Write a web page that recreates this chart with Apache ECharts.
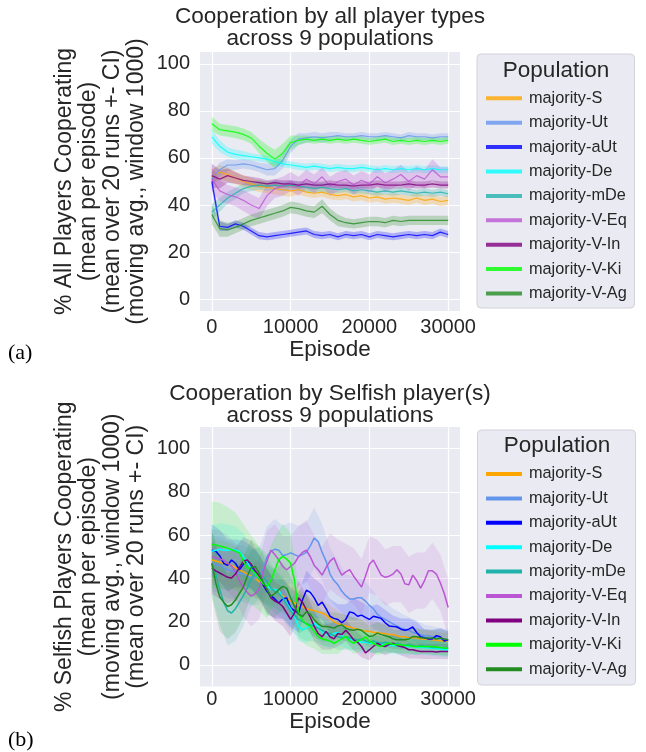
<!DOCTYPE html>
<html><head><meta charset="utf-8">
<script src="https://cdn.jsdelivr.net/npm/echarts@6/dist/echarts.min.js"></script>
<style>html,body{margin:0;padding:0;background:#fff;}#c{width:646px;height:752px;}</style>
</head><body><div id="c"></div>
<script>
// ---------- categories ----------
const populations = ['majority-S','majority-Ut','majority-aUt','majority-De','majority-mDe','majority-V-Eq','majority-V-In','majority-V-Ki','majority-V-Ag'];
const seriesColors = ['#FFA500','#6495ED','#0000FF','#00FFFF','#20B2AA','#BA55D3','#800080','#00FF00','#228B22'];
const xTicks = [0,10000,20000,30000];
const yTicks = [0,20,40,60,80,100];

// ---------- panel (a): all players, every 1000 episodes ----------
const epTop = [0,1000,2000,3000,4000,5000,6000,7000,8000,9000,10000,11000,12000,13000,14000,15000,16000,17000,18000,19000,20000,21000,22000,23000,24000,25000,26000,27000,28000,29000,30000];
const topS   = [52,54,53,51.5,50,49,48,47.5,47,46.5,46,46.5,45.5,45,45.5,44.5,44,44.5,43.5,44,43,43.5,42.5,43,42.5,42,43,42,42.5,41.5,42];
const topUt  = [51,55,57,57,57.5,57,56,55,55.5,59,65,68,68.5,69,68.5,69,69.5,69,69,69.5,69,69,69.5,69,68.5,69.5,69,69,68.5,69,69];
const topAUt = [50,31,30.5,32,31,29,27,26.5,27,27.5,28,28.5,29,27.5,27,27.5,26.5,27.5,27,27.5,26.5,27.5,27,26.5,27,27.5,27,27.5,27,28.5,27.5];
const topDe  = [69,65,62.5,61.5,61,60.5,60,59.5,58.5,57.5,57,56.5,56,56.5,56,55.5,56,55.5,55.5,56,55.5,55,55.5,55,55.5,55,55.5,55,55.5,55,55];
const topMDe = [37,40,43,45,47,48,48.5,48,48.5,48,48.5,48,47.5,47,47.5,47,46.5,47,46,46.5,46,45.5,46,45.5,46,45.5,45,45.5,45,45.5,44.8];
const topVEq = [51,46,44.5,43.5,42,40,38.5,44,47,48,50,48,51,49,52,48,50,51,48.5,50.5,49,52,49.5,51,53,50,52.5,51,55,52,52];
const topVIn = [52.5,51,52.5,51.5,50.5,50,49.5,49,49.5,49,49,48.5,49,48.5,48.5,49,48.5,48.5,48,48.5,48.5,49,48.5,48.5,48.5,49,48.5,48.5,49,48.5,48.5];
const topVKi = [74.5,72,71.5,71,70,68.5,65,62,59.5,62,66.5,67.5,68,67.5,68,67.5,68,67.5,68,67.5,67,67.5,68,67,67.5,67,67.5,67,67.5,67,67.5];
const topVAg = [36,30,29.5,30.5,32,33.5,34.5,35.5,36.5,37.5,39,38.5,37.5,37,39.5,36,33.5,32.5,32,32.5,33,33,32.5,33.5,33,33.5,33.5,33.5,33.5,33.5,33.5];
// CI half-widths, panel (a)
const ciTopS   = [3,3,3,2.5,2.5,2.5,2.5,2.5,2.5,2.5,2.5,2,2,2,2,2,2,2,2,2,2,2,2,2,2,2,2,2,2,2,2];
const ciTopUt  = [3,3,2.5,2,2,2,2,2.5,3,3.5,3,2.5,2,2,2,2,1.5,1.5,1.5,1.5,1.5,1.5,1.5,1.5,1.5,1.5,1.5,1.5,1.5,1.5,1.5];
const ciTopAUt = [3,2,1.5,1.5,1.5,1.5,1.5,1.5,1.5,1.5,1.5,1.5,1.5,1.5,1.5,1.5,1.5,1.5,1.5,1.5,1.5,1.5,1.5,1.5,1.5,1.5,1.5,1.5,1.5,1.5,1.5];
const ciTopDe  = [3,2.5,2,2,2,1.5,1.5,1.5,1.5,1.5,1.5,1.5,1.5,1.5,1.5,1.5,1.5,1.5,1.5,1.5,1.5,1.5,1.5,1.5,1.5,1.5,1.5,1.5,1.5,1.5,1.5];
const ciTopMDe = [3.5,3,2.5,2.5,2,2,2,2,2,2,2,2,2,2,2,2,1.5,1.5,1.5,1.5,1.5,1.5,1.5,1.5,1.5,1.5,1.5,1.5,1.5,1.5,1.5];
const ciTopVEq = [5,4.5,4,4,4.5,4.5,4.5,4.5,4,4,4,4,4,4,4,4,4,4,4,4,4,4,4,4,4,4,4,4,4.5,4,4];
const ciTopVIn = [5,4,3,2.5,2,2,2,1.5,1.5,1.5,1.5,1.5,1.5,1.5,1.5,1.5,1.5,1.5,1.5,1.5,1.5,1.5,1.5,1.5,1.5,1.5,1.5,1.5,1.5,1.5,1.5];
const ciTopVKi = [3,2.5,2.5,2.5,2.5,2.5,3,3.5,4,4,3,2,1.5,1.5,1.5,1.5,1.5,1.5,1.5,1.5,1.5,1.5,1.5,1.5,1.5,1.5,1.5,1.5,1.5,1.5,1.5];
const ciTopVAg = [4,3.5,3,2.5,2.5,2.5,2.5,2.5,2.5,2.5,2.5,2.5,2.5,2.5,3,2.5,2.5,2,2,2,2,2,2,2,2,2,2,2,2,2,2];

// ---------- panel (b): selfish players, every 500 episodes ----------
const epBot = [0,500,1000,1500,2000,2500,3000,3500,4000,4500,5000,5500,6000,6500,7000,7500,8000,8500,9000,9500,10000,10500,11000,11500,12000,12500,13000,13500,14000,14500,15000,15500,16000,16500,17000,17500,18000,18500,19000,19500,20000,20500,21000,21500,22000,22500,23000,23500,24000,24500,25000,25500,26000,26500,27000,27500,28000,28500,29000,29500,30000];
const botS   = [48.5,48,47.5,47,46.5,46,45,44,43,42,41,40,38.5,37.5,36.5,35.5,34.5,33,32,31,29.5,28.5,27.5,27,26,25.5,25,24.5,24,23,21.5,20,19,18.5,18,17.5,17,16.5,16,15.5,15.5,15,15,14.5,14.5,14,14,13.5,13,13,12.5,12.5,12.5,12,12,12,11.5,11.5,11,11,10.8];
const botUt  = [47,46.5,46,45,44,43.5,43,42.5,42,41,40.5,40,41,44,50,52.5,53.5,53,50.5,51,51.8,51,50.2,51,52,55,58.7,57,52,48,42,39,37,34,32,30.5,30.5,31,31,29.5,27.5,26,23.5,22,21,20,19,18,17,16.5,16,15,14.5,14,13.5,13.5,13,12.5,12,11.8,11.6];
const botAUt = [53,52.5,50.5,47,46,48.5,47,44,46.5,48,45,42.5,41,37,34,32,30.5,28.6,30.5,31,26.5,25,24,30,34.5,33.5,31,27.5,29,26,22.5,21.5,21,19.5,21,24.5,24,22.5,23,22,21,22.5,22,21.5,19.5,18,17.8,17.5,16.5,16,16.5,17.5,15,13,12.5,12,12,13.5,13,11,11.6];
const botDe  = [52.5,53,53.5,53,53,53.3,53,52.5,50,47.5,44.5,42,40.5,38.5,36.5,35,34.8,34.5,31,28.5,26,22,18,16.2,17,18,19.3,18,15,14,13.5,14.5,15,13.5,12.5,12,11.5,11,10.5,10.5,10,10,9.5,9.5,9.3,9,9,8.8,8.5,8.5,8.5,8.5,8.3,8,8,7.8,7.7,7.5,7.3,7,7];
const botMDe = [47,42,35,29,25,24,26,29,32,35.5,40,42,42.5,41,38.5,35.5,34,33,31,28,25,23,21,20,19,18.5,17.8,17,16,15,14.5,13.5,13,12.5,13,12.5,12,11.5,12,11,10.5,11,10.5,10,10.5,10,9.5,10,9.5,9,9.5,9,8.5,9,8.5,8.5,8,8,8,7.8,7.7];
const botVEq = [50,49.5,49,48.5,47,45.8,43,39,36,33.5,31.8,33,35,43,48,53,51,48.5,45.5,44,45.5,47,50,52,53,50,46,44,41.5,45,48,49.5,45,41.5,43,44,41,38.5,36,41,46.5,48.5,45,41.5,40.5,41,42,44,42,37.5,37,41.5,39,35.5,39,43.5,43.5,42,38,33,26.5];
const botVIn = [44.8,43.5,42.5,41.5,40.5,40.2,42,45,48,48.5,46.5,43.5,41,37.5,34.8,31,29.5,28.6,27,24,21,24,31,29,25.5,22,17.8,14.5,13,15.5,13,12,14.5,14,16,14,11.6,10.5,8.5,5.5,7,8.5,10,9,8.5,9.5,10,9,8.5,8,7,7,6.5,6.2,6.2,6.2,6.2,6,6.2,6.2,6.2];
const botVKi = [55.6,55.5,55,54.5,54,53.3,52.5,51.8,48,45,44,42.5,40,37.5,36.3,39,44,48.7,50.2,49,47,39,24,20.5,19,17.8,15.5,13.1,12,11.6,11,10,11,12,13,11,10,11,11.6,13,11,10,9,8.5,9.5,10,9.5,9.3,9.3,9,9,8.5,8.5,8.5,8.5,8.5,8.5,8.3,8,7.8,7.7];
const botVAg = [47,38,31.5,29,27,27.8,30,33,36,41,45,45.5,42.5,38.5,35,31.7,33,34.8,36.3,35.5,31,27,23.5,22.4,24.5,23.5,20.9,19,17.8,17.8,17.5,17,18,18.5,17,16.2,16,16.5,16,14.5,13.1,13.5,14.7,14,13.5,13,12,11.6,11.6,11.6,12,13.1,13,12.5,12.4,12.4,12.4,12,12.4,12,11.6];
// CI half-widths, panel (b), every 1000 episodes
const epBotCI = [0,1000,2000,3000,4000,5000,6000,7000,8000,9000,10000,11000,12000,13000,14000,15000,16000,17000,18000,19000,20000,21000,22000,23000,24000,25000,26000,27000,28000,29000,30000];
const ciBotS   = [10,10,10,10,9,9,9,8,8,8,7,7,7,6,6,6,6,5,5,5,5,5,4.5,4.5,4.5,4,4,4,4,4,4];
const ciBotUt  = [13,13,13,13,13,13,13,14,14,14,14,14,14,14,13,12,11,10,10,9,9,8,8,7,7,6,6,5,5,5,5];
const ciBotAUt = [12,12,12,11,11,10,10,10,9,9,9,9,9,9,8,8,7,7,7,6,6,6,6,5,5,5,5,4,4,4,4];
const ciBotDe  = [12,12,12,11,11,10,10,9,9,8,8,7,7,6,6,6,5,5,5,5,4,4,4,4,4,4,3.5,3.5,3.5,3.5,3.5];
const ciBotMDe = [15,16,16,15,14,13,12,11,10,10,9,8,8,7,7,6,6,6,5,5,5,5,4,4,4,4,4,3.5,3.5,3.5,3.5];
const ciBotVEq = [13,13,13,13,14,14,14,14,14,14,14,14,14,14,13,13,13,13,13,13,13,13,13,13,13,13,13,13,13,13,13];
const ciBotVIn = [12,12,12,12,11,11,10,10,9,9,8,8,7,7,6,6,6,5,5,5,5,4,4,4,4,4,3.5,3.5,3.5,3.5,3.5];
const ciBotVKi = [20,20,19,18,17,16,15,15,15,15,14,12,10,8,7,6,6,5,5,5,4.5,4.5,4,4,4,4,3.5,3.5,3.5,3.5,3.5];
const ciBotVAg = [16,16,15,15,14,13,12,12,11,11,10,9,8,8,7,7,6,6,6,5,5,5,5,4.5,4.5,4.5,4,4,4,4,4];

const topMeans = [topS,topUt,topAUt,topDe,topMDe,topVEq,topVIn,topVKi,topVAg];
const topCIs   = [ciTopS,ciTopUt,ciTopAUt,ciTopDe,ciTopMDe,ciTopVEq,ciTopVIn,ciTopVKi,ciTopVAg];
const botMeans = [botS,botUt,botAUt,botDe,botMDe,botVEq,botVIn,botVKi,botVAg];
const botCIs   = [ciBotS,ciBotUt,ciBotAUt,ciBotDe,ciBotMDe,ciBotVEq,ciBotVIn,ciBotVKi,ciBotVAg];

// ---------- build ----------
const FONT = '"Liberation Sans", Arial, sans-serif';
const INK = '#262626';
function rgba(hex, a) {
  const n = parseInt(hex.slice(1), 16);
  return 'rgba(' + (n >> 16 & 255) + ',' + (n >> 8 & 255) + ',' + (n & 255) + ',' + a + ')';
}
function band(gi, xs, mean, ci, step, color, op) {
  const hi = [], lo = [];
  for (let i = 0; i < xs.length; i++) {
    const m = mean[i * step];
    hi.push([xs[i], m + ci[i]]);
    lo.push([xs[i], m - ci[i]]);
  }
  return {
    type: 'custom', xAxisIndex: gi, yAxisIndex: gi, silent: true, z: 1,
    data: [[xs[0], mean[0]]],
    renderItem: function (params, api) {
      const pts = [];
      for (let i = 0; i < hi.length; i++) pts.push(api.coord(hi[i]));
      for (let i = lo.length - 1; i >= 0; i--) pts.push(api.coord(lo[i]));
      return { type: 'polygon', shape: { points: pts }, style: { fill: color, opacity: op } };
    }
  };
}
function line(gi, name, xs, ys, color, width, op) {
  return {
    type: 'line', name: name, xAxisIndex: gi, yAxisIndex: gi, z: 3,
    showSymbol: false, symbol: 'none', smooth: false, animation: false,
    data: xs.map((x, i) => [x, ys[i]]),
    lineStyle: { color: color, width: width, opacity: op },
    itemStyle: { color: color }
  };
}
const series = [];
populations.forEach((p, k) => series.push(band(0, epTop, topMeans[k], topCIs[k], 1, seriesColors[k], 0.25)));
populations.forEach((p, k) => series.push(line(0, p, epTop, topMeans[k], seriesColors[k], 1.2, 0.8)));
populations.forEach((p, k) => series.push(band(1, epBotCI, botMeans[k], botCIs[k], 2, seriesColors[k], 0.15)));
populations.forEach((p, k) => series.push(line(1, p, epBot, botMeans[k], seriesColors[k], 1.5, 1)));

function xAxisCfg(gi, min, max, margin, gap) {
  return {
    type: 'value', gridIndex: gi, min: min, max: max,
    axisLine: { show: false },
    axisTick: { show: false, customValues: xTicks },
    axisLabel: { customValues: xTicks, formatter: v => String(v), fontSize: 20, color: INK, margin: margin, fontFamily: FONT },
    splitLine: { show: true, lineStyle: { color: '#ffffff', width: 1.2 } },
    name: 'Episode', nameLocation: 'middle', nameGap: gap,
    nameTextStyle: { fontSize: 22.5, color: INK, fontFamily: FONT, lineHeight: 22 }
  };
}
function yAxisCfg(gi, min, max, name) {
  return {
    type: 'value', gridIndex: gi, min: min, max: max,
    axisLine: { show: false },
    axisTick: { show: false, customValues: yTicks },
    axisLabel: { customValues: yTicks, fontSize: 20, color: INK, margin: 10, fontFamily: FONT },
    splitLine: { show: true, lineStyle: { color: '#ffffff', width: 1.2 } },
    name: name, nameLocation: 'middle', nameRotate: 90, nameGap: 51,
    nameTextStyle: { fontSize: 23, color: INK, fontFamily: FONT, lineHeight: 24, align: 'center' }
  };
}
function legendCfg(top, alpha) {
  return {
    orient: 'vertical', left: 481, top: top,
    icon: 'rect', itemWidth: 36, itemHeight: 4, itemGap: 4.4,
    selectedMode: false,
    textStyle: { fontSize: 16.3, color: INK, fontFamily: FONT, lineHeight: 20, padding: [0, 0, 0, 2] },
    data: populations.map((p, k) => ({ name: p, itemStyle: { color: rgba(seriesColors[k], alpha) } }))
  };
}

const chart = echarts.init(document.getElementById('c'), null, { renderer: 'canvas' });
chart.setOption({
  animation: false,
  backgroundColor: '#ffffff',
  textStyle: { fontFamily: FONT },
  title: [
    { text: 'Cooperation by all player types\nacross 9 populations', left: 325, top: 1, textAlign: 'center',
      textStyle: { fontSize: 22.6, fontWeight: 'normal', color: INK, lineHeight: 22, fontFamily: FONT } },
    { text: 'Cooperation by Selfish player(s)\nacross 9 populations', left: 325, top: 378, textAlign: 'center',
      textStyle: { fontSize: 22.6, fontWeight: 'normal', color: INK, lineHeight: 22, fontFamily: FONT } }
  ],
  grid: [
    { left: 200, top: 52, width: 260, height: 259, show: true, backgroundColor: '#EAEAF2', borderWidth: 0 },
    { left: 200, top: 427, width: 260, height: 259.5, show: true, backgroundColor: '#EAEAF2', borderWidth: 0 }
  ],
  xAxis: [xAxisCfg(0, -1500, 31500, 6, 27), xAxisCfg(1, -1500, 31500, 3, 23)],
  yAxis: [
    yAxisCfg(0, -5, 105, '% All Players Cooperating\n(mean per episode)\n(mean over 20 runs +- CI)\n(moving avg., window 1000)'),
    yAxisCfg(1, -10, 110, '% Selfish Players Cooperating\n(mean per episode)\n(moving avg., window 1000)\n(mean over 20 runs +- CI)')
  ],
  legend: [legendCfg(83.3, 0.8), legendCfg(459, 1)],
  graphic: [
    { type: 'rect', z: 0, shape: { x: 477, y: 54, width: 157.5, height: 254, r: 4 }, style: { fill: '#EAEAF2', stroke: '#D2D2DA', lineWidth: 1 } },
    { type: 'text', z: 1, x: 556, y: 71, style: { text: 'Population', fontSize: 22.5, fill: INK, textAlign: 'center', textVerticalAlign: 'middle', fontFamily: FONT } },
    { type: 'rect', z: 0, shape: { x: 477.5, y: 430, width: 158, height: 255, r: 4 }, style: { fill: '#EAEAF2', stroke: '#D2D2DA', lineWidth: 1 } },
    { type: 'text', z: 1, x: 557, y: 446, style: { text: 'Population', fontSize: 22.5, fill: INK, textAlign: 'center', textVerticalAlign: 'middle', fontFamily: FONT } },
    { type: 'text', z: 1, x: 8, y: 353, style: { text: '(a)', fontSize: 22, fill: '#000', textVerticalAlign: 'middle', fontFamily: '"Liberation Serif", "Times New Roman", serif' } },
    { type: 'text', z: 1, x: 8, y: 740, style: { text: '(b)', fontSize: 22, fill: '#000', textVerticalAlign: 'middle', fontFamily: '"Liberation Serif", "Times New Roman", serif' } }
  ],
  series: series
});
</script>
</body></html>
